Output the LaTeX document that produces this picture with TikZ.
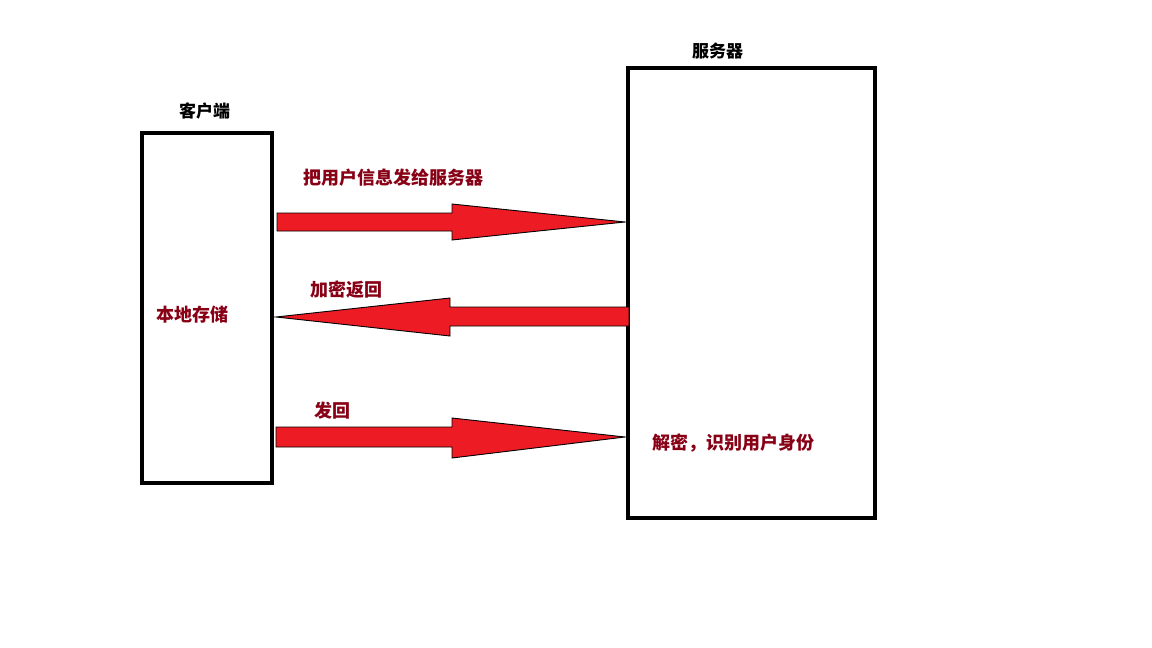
\documentclass[tikz,border=0pt]{standalone}
\usepackage{fontspec}
\usepackage{tikz}
\newfontfamily\cjk{Noto Sans CJK SC}
\definecolor{paintred}{HTML}{ED1C24}
\definecolor{textred}{HTML}{880015}
\tikzset{
  box/.style = {draw, line width=4pt, inner sep=0pt},
  bigarrow/.style = {fill=paintred, draw=black, line width=0.9pt, line join=miter},
  title/.style = {font=\cjk\bfseries\fontsize{17}{19}\selectfont, inner sep=0pt},
  note/.style = {font=\cjk\bfseries\fontsize{18}{20}\selectfont, text=textred, inner sep=0pt}
}
\begin{document}
\begin{tikzpicture} [x=1pt, y=-1pt]
        \useasboundingbox (0,0) rectangle (1152,648);
        \fill[white] (0,0) rectangle (1152,648);
        % the two boxes
        \node[box, minimum width=130pt, minimum height=350pt] (client) at (207,308) {};
        \node[box, minimum width=247pt, minimum height=450pt] (server) at (751.5,293) {};
        \node[title] (clientname) at (204.5,110.5) {客户端};
        \node[title] (servername) at (717.5,51) {服务器};
        % arrows
        \coordinate (send) at (277,222);
        \coordinate (back) at (629,317);
        \coordinate (again) at (276,437);
        \filldraw[bigarrow] (send) ++(0,-9) -- ++(175,0) -- ++(0,-9) -- ++(173,18) -- ++(-173,18) -- ++(0,-9) -- ++(-175,0) -- cycle;
        \filldraw[bigarrow] (back) ++(0,-10) -- ++(-179,0) -- ++(0,-9) -- ++(-174,19) -- ++(174,19) -- ++(0,-10) -- ++(179,0) -- cycle;
        \filldraw[bigarrow] (again) ++(0,-10) -- ++(176,0) -- ++(0,-9) -- ++(173,19) -- ++(-173,21) -- ++(0,-11) -- ++(-176,0) -- cycle;
        % labels
        \node[note] (sendlabel) at (393,178) {把用户信息发给服务器};
        \node[note] (backlabel) at (346,290) {加密返回};
        \node[note] (store) at (192,315) {本地存储};
        \node[note] (againlabel) at (332,411) {发回};
        \node[note] (decrypt) at (733,443.5) {解密，识别用户身份};
    \end{tikzpicture}
\end{document}
